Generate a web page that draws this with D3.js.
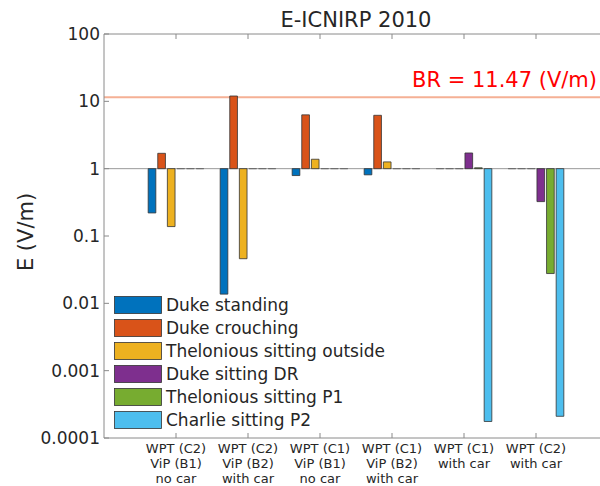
<!DOCTYPE html>
<html>
<head>
<meta charset="utf-8">
<script src="https://cdn.jsdelivr.net/npm/d3@7"></script>
<style>
  body { margin: 0; background: #fff; }
  text { font-family: "DejaVu Sans", Verdana, sans-serif; fill: #262626; }
</style>
</head>
<body>
<div id="chart"></div>
<script>
// Data (values of 1 = no bar, drawn flat on the base line)
var categories = [
  ["WPT (C2)", "ViP (B1)", "no car"],
  ["WPT (C2)", "ViP (B2)", "with car"],
  ["WPT (C1)", "ViP (B1)", "no car"],
  ["WPT (C1)", "ViP (B2)", "with car"],
  ["WPT (C1)", "with car"],
  ["WPT (C2)", "with car"]
];
var seriesNames = ["Duke standing", "Duke crouching", "Thelonious sitting outside",
  "Duke sitting DR", "Thelonious sitting P1", "Charlie sitting P2"];
var dukeStanding = [0.22, 0.0137, 0.79, 0.81, 1, 1];
var dukeCrouching = [1.69, 12.0, 6.3, 6.2, 1, 1];
var theloniousOutside = [0.138, 0.046, 1.38, 1.26, 1, 1];
var dukeSittingDR = [1, 1, 1, 1, 1.71, 0.324];
var theloniousP1 = [1, 1, 1, 1, 1.03, 0.0277];
var charlieP2 = [1, 1, 1, 1, 0.000176, 0.00021];
var yTicks = [0.0001, 0.001, 0.01, 0.1, 1, 10, 100];
var yTickLabels = ["0.0001", "0.001", "0.01", "0.1", "1", "10", "100"];
var brValue = 11.47;
var colors = ["#0072BD", "#D95319", "#EDB120", "#7E2F8E", "#77AC30", "#4DBEEE"];

var allSeries = [dukeStanding, dukeCrouching, theloniousOutside, dukeSittingDR, theloniousP1, charlieP2];

var svgWidth = 600, svgHeight = 486;
var svg = d3.select("#chart").append("svg")
  .attr("width", svgWidth).attr("height", svgHeight);

// axes box (right side runs past the window edge)
var axLeft = 104, axTop = 34, axRight = 608, axBottom = 438;
var x = d3.scaleLinear().domain([0, 7]).range([axLeft, axRight]);
var y = d3.scaleLog().domain([0.0001, 100]).range([axBottom, axTop]);

var axisColor = "#8a8a8a";

// BR reference line (behind the bars)
svg.append("line")
  .attr("x1", axLeft).attr("x2", axRight)
  .attr("y1", y(brValue)).attr("y2", y(brValue))
  .attr("stroke", "#f5b095").attr("stroke-width", 2);

svg.append("text")
  .attr("x", 412).attr("y", 87)
  .style("font-size", "21px")
  .style("fill", "#ff0000")
  .text("BR = " + brValue + " (V/m)");

// base line at 1
svg.append("line")
  .attr("x1", axLeft).attr("x2", axRight)
  .attr("y1", y(1)).attr("y2", y(1))
  .attr("stroke", "#9a9a9a").attr("stroke-width", 1);

// grouped bars, MATLAB style layout
var nSeries = allSeries.length;
var groupWidth = 0.8;
var step = groupWidth / nSeries;
var barW = step * 0.8;

allSeries.forEach(function(vals, s) {
  svg.append("g")
    .selectAll("path")
    .data(vals)
    .enter()
    .append("path")
    .attr("d", function(v, i) {
      var cx = (i + 1) + (s - (nSeries - 1) / 2) * step;
      var x0 = x(cx - barW / 2), x1 = x(cx + barW / 2);
      var y0 = y(1), y1 = y(v);
      return "M" + x0 + "," + y0 + "H" + x1 + "V" + y1 + "H" + x0 + "Z";
    })
    .attr("fill", colors[s])
    .attr("stroke", function(v) { return v === 1 ? "#6a6a6a" : "#333"; })
    .attr("stroke-width", 0.8);
});

// axis lines
svg.append("line").attr("x1", axLeft).attr("x2", axLeft).attr("y1", axTop).attr("y2", axBottom)
  .attr("stroke", axisColor);
svg.append("line").attr("x1", axLeft).attr("x2", axRight).attr("y1", axBottom).attr("y2", axBottom)
  .attr("stroke", axisColor);
svg.append("line").attr("x1", axLeft).attr("x2", axRight).attr("y1", axTop).attr("y2", axTop)
  .attr("stroke", axisColor);

// y ticks (inside) and labels
yTicks.forEach(function(t, i) {
  svg.append("line")
    .attr("x1", axLeft).attr("x2", axLeft + 5)
    .attr("y1", y(t)).attr("y2", y(t))
    .attr("stroke", axisColor);
  svg.append("text")
    .attr("x", axLeft - 4).attr("y", y(t) + 6)
    .attr("text-anchor", "end")
    .style("font-size", "17px")
    .text(yTickLabels[i]);
});

// x ticks on bottom and top, with multi-line labels
categories.forEach(function(lines, i) {
  var cx = x(i + 1);
  svg.append("line").attr("x1", cx).attr("x2", cx)
    .attr("y1", axBottom).attr("y2", axBottom - 5).attr("stroke", axisColor);
  svg.append("line").attr("x1", cx).attr("x2", cx)
    .attr("y1", axTop).attr("y2", axTop + 5).attr("stroke", axisColor);
  var t = svg.append("text")
    .attr("text-anchor", "middle")
    .style("font-size", "13px");
  lines.forEach(function(l, j) {
    t.append("tspan").attr("x", cx).attr("y", 453 + j * 15).text(l);
  });
});

// title and y label
svg.append("text")
  .attr("x", (axLeft + axRight) / 2).attr("y", 27)
  .attr("text-anchor", "middle")
  .style("font-size", "21px")
  .text("E-ICNIRP 2010");

svg.append("text")
  .attr("transform", "translate(33," + ((axTop + axBottom) / 2 - 4) + ") rotate(-90)")
  .attr("text-anchor", "middle")
  .style("font-size", "21px")
  .text("E (V/m)");

// legend
var legend = svg.append("g");
seriesNames.forEach(function(name, i) {
  var cy = 305 + i * 23;
  legend.append("rect")
    .attr("x", 114.5).attr("y", cy - 8.5)
    .attr("width", 47).attr("height", 17)
    .attr("fill", colors[i])
    .attr("stroke", "#333").attr("stroke-width", 0.8);
  legend.append("text")
    .attr("x", 166).attr("y", cy + 6)
    .style("font-size", "17px")
    .text(name);
});
</script>
</body>
</html>
